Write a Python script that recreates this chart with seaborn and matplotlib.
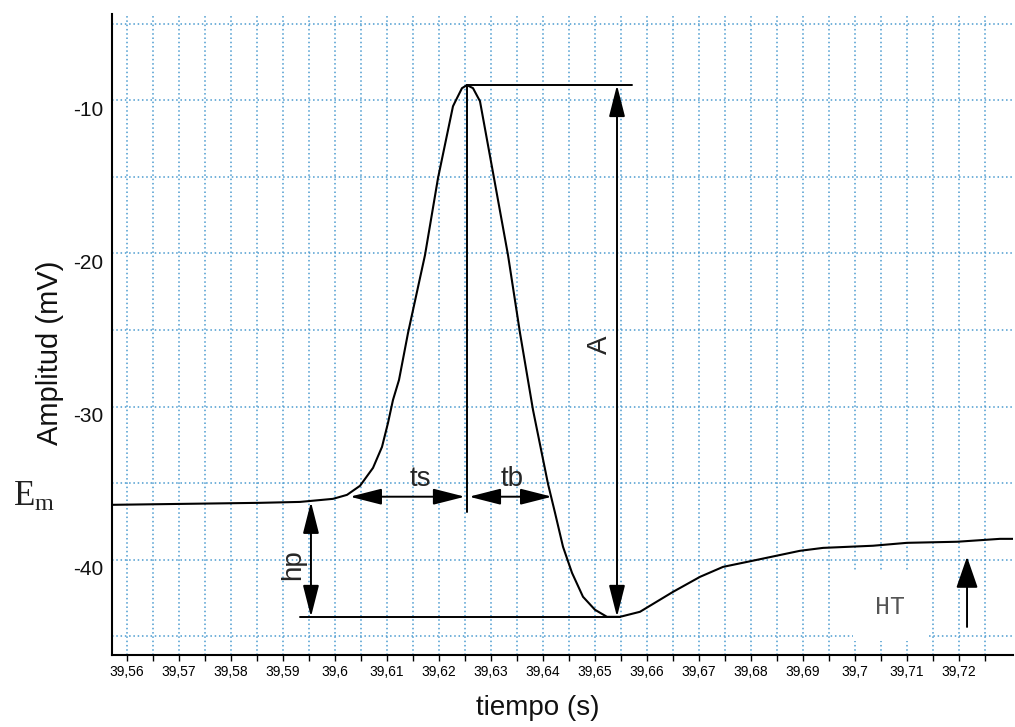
import numpy as np
import pandas as pd
import matplotlib
matplotlib.use("Agg")
import matplotlib.pyplot as plt
import matplotlib.ticker as mticker
from matplotlib.transforms import ScaledTranslation
import seaborn as sns

# ---- data ----
time_s = [39.55712, 39.58558, 39.59327, 39.59962, 39.60231, 39.60481, 39.60731,
          39.60904, 39.61019, 39.61115, 39.61231, 39.61404, 39.61731, 39.61981,
          39.62269, 39.62327, 39.62442, 39.62538, 39.62654, 39.62788, 39.63058,
          39.63327, 39.63558, 39.63808, 39.64096, 39.64231, 39.64385, 39.64558,
          39.64769, 39.65000, 39.65231, 39.65481, 39.65865, 39.66500, 39.67019,
          39.67462, 39.68115, 39.68942, 39.69385, 39.70346, 39.71000, 39.71962,
          39.72788, 39.73077]
amplitude_mV = [-36.41, -36.28, -36.22, -36.02, -35.76, -35.17, -34.00,
                -32.63, -31.07, -29.57, -28.26, -25.20, -20.11, -15.09,
                -10.40, -10.00, -9.22, -9.02, -9.22, -10.07, -15.09,
                -20.11, -25.20, -30.22, -35.04, -36.93, -39.15, -40.85,
                -42.41, -43.26, -43.72, -43.72, -43.39, -42.09, -41.11,
                -40.46, -40.00, -39.41, -39.22, -39.08, -38.89, -38.82,
                -38.63, -38.63]

x_major = [39.56, 39.57, 39.58, 39.59, 39.60, 39.61, 39.62, 39.63, 39.64,
           39.65, 39.66, 39.67, 39.68, 39.69, 39.70, 39.71, 39.72]
y_major = [-10, -20, -30, -40]
y_minor = [-5, -15, -25, -35, -45]

peak_t, peak_v = 39.62538, -9.02
trough_t, trough_v = 39.65481, -43.72
base_v = -36.22
hp_t = 39.59538
a_t = 39.65423
ts_start, tb_end = 39.60288, 39.64173
ht_t = 39.72154

df = pd.DataFrame({"tiempo": time_s, "amp": amplitude_mV})

sns.set_theme(style="white")
plt.rcParams["font.family"] = ["Liberation Sans", "DejaVu Sans"]

fig = plt.figure(figsize=(10.15, 7.27), dpi=100)
ax = fig.add_axes([112/1015, 1-655/727, (1013-112)/1015, (655-14)/727])

grid_c = "#4b9bd0"
sns.lineplot(data=df, x="tiempo", y="amp", sort=False, color="black",
             linewidth=1.5, ax=ax, zorder=5)

ax.set_xlim(39.55712, 39.73038)
ax.set_ylim(-46.21, -4.38)

ax.set_xticks(x_major)
ax.set_xticks([v + 0.005 for v in x_major], minor=True)
ax.xaxis.set_major_formatter(mticker.FuncFormatter(
    lambda v, p: f"{v:.2f}".rstrip("0").rstrip(".").replace(".", ",")))
ax.set_yticks(y_major)
ax.set_yticks(y_minor, minor=True)
ax.yaxis.set_major_formatter(mticker.FuncFormatter(lambda v, p: f"{int(v)}"))

ax.grid(which="both", axis="both", color=grid_c, linestyle=(0, (1, 1.8)),
        linewidth=1.1)
ax.tick_params(axis="x", which="both", direction="out", length=4, width=1,
               colors="black", labelsize=10, pad=3, bottom=True)
ax.tick_params(axis="y", which="both", length=0, labelsize=15, pad=6,
               labelcolor="#111111")
for lbl in ax.get_yticklabels():
    lbl.set_transform(lbl.get_transform() +
                      ScaledTranslation(0, -8/100, fig.dpi_scale_trans))

for s in ["top", "right"]:
    ax.spines[s].set_visible(False)
for s in ["left", "bottom"]:
    ax.spines[s].set_color("black")
    ax.spines[s].set_linewidth(1.5)

ax.set_xlabel("tiempo (s)", fontsize=20, color="#111111", va="center")
ax.xaxis.set_label_coords((538-112)/(1013-112), -(708-655)/(655-14))
ax.set_ylabel("Amplitud (mV)", fontsize=21, color="#111111")
ax.yaxis.set_label_coords(-(112-64)/(1013-112), 1-(353-14)/(655-14))

lw = 1.4
# peak horizontal and vertical lines
ax.plot([peak_t, 39.65712], [peak_v, peak_v], color="black", lw=lw, zorder=6)
ax.plot([peak_t, peak_t], [peak_v, -36.86], color="black", lw=lw, zorder=6)
# trough horizontal
ax.plot([39.59327, trough_t], [trough_v, trough_v], color="black", lw=lw, zorder=6)

arrow_kw = dict(arrowstyle="<|-|>,head_length=1.3,head_width=0.33",
                color="black", lw=lw, shrinkA=0, shrinkB=0, mutation_scale=15)
# A
ax.annotate("", xy=(a_t, peak_v), xytext=(a_t, trough_v), arrowprops=arrow_kw)
ax.text(39.6510, -25.95, "A", rotation=90, fontsize=20, ha="center", va="center")
# hp
ax.annotate("", xy=(hp_t, base_v), xytext=(hp_t, trough_v), arrowprops=arrow_kw)
ax.text(39.59192, -40.33, "hp", rotation=90, fontsize=20, ha="center", va="center")
# ts / tb
ax.annotate("", xy=(ts_start, -35.88), xytext=(peak_t - 0.0004, -35.88),
            arrowprops=arrow_kw)
ax.annotate("", xy=(peak_t + 0.0004, -35.88), xytext=(tb_end, -35.88),
            arrowprops=arrow_kw)
ax.text(39.61635, -34.75, "ts", fontsize=20, ha="center", va="center")
ax.text(39.6340, -34.75, "tb", fontsize=20, ha="center", va="center")

# HT
ax.text(39.70673, -43.07, "HT", fontsize=18, ha="center", va="center",
        family=["Liberation Mono", "DejaVu Sans Mono"], color="#555555",
        bbox=dict(boxstyle="square,pad=0.9", fc="white", ec="none"), zorder=4)
ax.annotate("", xy=(ht_t, -39.8), xytext=(ht_t, -44.38),
            arrowprops=dict(arrowstyle="-|>,head_length=1.3,head_width=0.45",
                            color="black", lw=lw, shrinkA=0, shrinkB=0,
                            mutation_scale=15), zorder=6)

# Em label
fig.text(13/1015, 1-497/727, r"$\mathregular{E_m}$", fontsize=25,
         family=["Liberation Serif", "DejaVu Serif"], ha="left", va="center",
         color="#222222")

fig.savefig("out.png", dpi=100)
